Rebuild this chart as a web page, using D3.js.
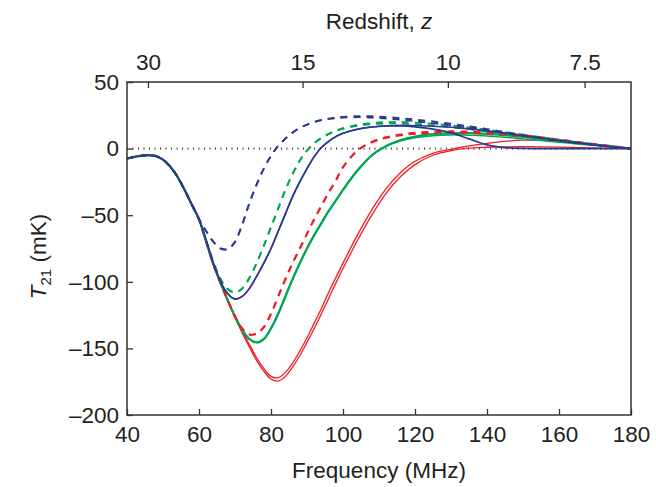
<!DOCTYPE html>
<html>
<head>
<meta charset="utf-8">
<script src="https://cdn.jsdelivr.net/npm/d3@7"></script>
<style>
  body { margin: 0; background: #fff; }
  svg text { font-family: "Liberation Sans", Arial, Helvetica, sans-serif; fill: #231f20; }
</style>
</head>
<body>
<div class="chart"></div>
<script>
// 21-cm brightness temperature vs frequency, with redshift on the top axis.
// Every model shares the early dip (40-60 MHz), then splits into its own trough.

var xTicks = [40, 60, 80, 100, 120, 140, 160, 180]
var yTicks = [50, 0, -50, -100, -150, -200]
var zTicks = [30, 15, 10, 7.5]
var zLabels = ['30', '15', '10', '7.5']
var nu21 = 1420.4

// shared early part (MHz / mK)
var commonFreq = [40, 43, 46, 48, 50, 52, 54, 56, 58, 60]
var commonT = [-7.5, -5.8, -5, -5.6, -8.3, -13.5, -21, -31, -42, -53]

var freqs = [62, 64, 66, 68, 70, 72, 74, 76, 78, 80, 82, 84, 86, 88, 90, 92, 94, 96, 98, 100,
  104, 108, 112, 116, 120, 125, 130, 135, 140, 145, 150, 155, 160, 165, 170, 175, 180]

var blueDashA = [-62, -70, -75, -75.5, -70, -57, -41, -27, -15, -5.5, 2, 7.5, 12, 15.5, 18, 20, 21.5, 22.5, 23.3, 23.8,
  24.3, 24.2, 23.6, 22.8, 21.8, 20.3, 18.6, 16.7, 14.6, 12.4, 10.2, 8.1, 6.2, 4.4, 2.8, 1.3, 0]
var blueDashB = [-62, -70, -75, -75.5, -70, -57, -41, -27, -15, -5.5, 2, 7.5, 12, 15.5, 18, 20, 21.3, 22.2, 22.8, 23.2,
  23.5, 23.2, 22.5, 21.6, 20.5, 19, 17.3, 15.5, 13.5, 11.5, 9.5, 7.6, 5.8, 4.1, 2.6, 1.2, 0]
var blueSolidA = [-69, -86, -100, -109, -113, -111, -105, -96, -86, -75, -62, -49, -36, -25, -15, -6, 0.8, 5.5, 9, 11.5,
  14.5, 16.2, 17, 17, 16.3, 14.6, 11.8, 7.3, 2.8, 0.7, 0.1, 0, 0, 0, 0, 0, 0]
var blueSolidB = [-69, -86, -100, -109, -113, -111, -105, -96, -86, -75, -62, -49, -36, -25, -15, -6, 0.8, 5.5, 9, 11.5,
  14.5, 16.2, 17.1, 17.4, 17.2, 16.8, 16, 14.8, 13.3, 11.6, 9.8, 7.9, 6, 4.3, 2.7, 1.3, 0]
var greenDashA = [-69, -85, -98, -105.5, -108, -105, -97, -86, -73, -59, -45, -31, -19, -9, -1.5, 4, 8, 11, 13.5, 15.3,
  17.8, 19.2, 19.8, 19.9, 19.5, 18.6, 17.3, 15.8, 14.1, 12.3, 10.4, 8.5, 6.6, 4.8, 3.1, 1.5, 0]
var greenDashB = [-69, -85, -98, -105.5, -108, -105, -97, -86, -73, -59, -45, -31, -19, -9, -1.5, 4, 7.8, 10.7, 13, 14.7,
  17, 18.3, 18.8, 18.8, 18.3, 17.3, 16, 14.5, 12.8, 11.1, 9.3, 7.6, 5.9, 4.3, 2.8, 1.4, 0]
var redDashA = [-70, -87, -101, -114, -126, -135, -139.5, -139, -134, -124, -111, -98, -86, -75, -64, -53, -43, -33, -24, -14,
  -1.5, 5, 8.5, 10.5, 11.8, 12.6, 12.9, 12.7, 12.1, 11.1, 9.9, 8.4, 6.8, 5.1, 3.4, 1.7, 0]
var redDashB = [-70, -87, -101, -114, -126, -135, -139.5, -139, -134, -124, -111, -98, -86, -75, -64, -53, -43, -33, -24, -14,
  -1.5, 4.6, 7.9, 9.8, 11, 11.7, 11.9, 11.7, 11.1, 10.2, 9, 7.7, 6.2, 4.7, 3.1, 1.5, 0]
var greenSolidA = [-70, -87, -101, -114, -126, -136, -143, -145.5, -143, -135, -124, -111, -98, -86, -75, -65, -56, -47, -39, -31,
  -16.5, -5, 2, 6.4, 9, 10.8, 11.6, 11.6, 11.1, 10.1, 8.9, 7.5, 6, 4.5, 3, 1.5, 0]
var greenSolidB = [-70, -87, -101, -114, -126, -136, -143, -145.5, -143, -135, -124, -111, -98, -86, -75, -65, -56, -47, -39, -31,
  -16.5, -5, 1.8, 5.9, 8.2, 9.7, 10.3, 10.1, 9.5, 8.5, 7.3, 6, 4.8, 3.5, 2.3, 1.1, 0]
var redSolidA = [-70, -87, -101, -114, -126, -137, -147, -157, -165, -171, -172, -168, -161, -152, -142, -131, -120, -108, -97, -86,
  -65, -46, -30, -18, -9.5, -3.5, -0.5, 2, 4, 5.5, 6.3, 6.3, 5.5, 4.2, 2.8, 1.3, 0]
var redSolidB = [-70, -87, -101, -114.5, -127, -138.5, -149, -159, -167, -173, -174.5, -171, -164, -155.5, -145.5, -135, -124, -112.5, -101, -90,
  -69, -50, -33.5, -21, -12, -5, -1.5, 0.3, 1, 1.3, 1.4, 1.3, 1.1, 0.8, 0.5, 0.2, 0]

var blue = '#2b3990', green = '#00a651', red = '#ed1c24'

// draw order: bottom first
var series = [
  {vals: redSolidA, color: red, width: 1.3},
  {vals: redSolidB, color: red, width: 1.3},
  {vals: greenSolidB, color: green, width: 1.5},
  {vals: greenSolidA, color: green, width: 2.3},
  {vals: redDashB, color: red, width: 1.6, dash: '7,6'},
  {vals: redDashA, color: red, width: 2.1, dash: '7,6'},
  {vals: greenDashB, color: green, width: 1.6, dash: '7,6'},
  {vals: greenDashA, color: green, width: 2, dash: '7,6'},
  {vals: blueSolidB, color: blue, width: 1.6},
  {vals: blueSolidA, color: blue, width: 1.6},
  {vals: blueDashB, color: blue, width: 1.6, dash: '7,6'},
  {vals: blueDashA, color: blue, width: 2, dash: '7,6'}
]

var totalWidth = 656, totalHeight = 487
var margin = {top: 82, right: 25, bottom: 72, left: 127}
var width = totalWidth - margin.left - margin.right
var height = totalHeight - margin.top - margin.bottom

var svg = d3.select('.chart').append('svg')
  .attr('width', totalWidth).attr('height', totalHeight)
var g = svg.append('g').attr('transform', 'translate(' + margin.left + ',' + margin.top + ')')

var x = d3.scaleLinear().domain([40, 180]).range([0, width])
var y = d3.scaleLinear().domain([-200, 50]).range([height, 0])

// zero reference
g.append('line')
  .attr('x1', 0).attr('x2', width).attr('y1', y(0)).attr('y2', y(0))
  .attr('stroke', '#444').attr('stroke-width', 2.2).attr('stroke-dasharray', '1,4.5')

var line = d3.line()
  .x(function(d){ return x(d[0]) })
  .y(function(d){ return y(d[1]) })
  .curve(d3.curveCatmullRom.alpha(0.5))

series.forEach(function(s){
  var pts = commonFreq.map(function(f, i){ return [f, commonT[i]] })
    .concat(freqs.map(function(f, i){ return [f, s.vals[i]] }))
  g.append('path')
    .attr('d', line(pts))
    .attr('fill', 'none')
    .attr('stroke', s.color)
    .attr('stroke-width', s.width)
    .attr('stroke-dasharray', s.dash || null)
    .attr('stroke-linejoin', 'round')
})

// ---- axes (ticks point inward) ----
var fontSize = 22.5
var xAxis = d3.axisBottom(x).tickValues(xTicks).tickSizeInner(-6).tickSizeOuter(0).tickPadding(11)
var yAxis = d3.axisLeft(y).tickValues(yTicks).tickSizeInner(-6).tickSizeOuter(0).tickPadding(8)
  .tickFormat(function(d){ return d < 0 ? '\u2013' + Math.abs(d) : d })
var zAxis = d3.axisTop(x)
  .tickValues(zTicks.map(function(z){ return nu21 / (1 + z) }))
  .tickFormat(function(d, i){ return zLabels[i] })
  .tickSizeInner(-6).tickSizeOuter(0).tickPadding(12)

var gx = g.append('g').attr('transform', 'translate(0,' + height + ')').call(xAxis)
var gy = g.append('g').call(yAxis)
var gz = g.append('g').call(zAxis)

;[gx, gy, gz].forEach(function(a){
  a.select('.domain').remove()
  a.selectAll('.tick line').attr('stroke', '#333').attr('stroke-width', 1.3)
  a.selectAll('.tick text').attr('font-size', fontSize).attr('font-family', null).attr('fill', '#231f20')
})

// frame
g.append('rect')
  .attr('width', width).attr('height', height)
  .attr('fill', 'none').attr('stroke', '#333').attr('stroke-width', 1.5)

// ---- titles ----
var zTitle = svg.append('text')
  .attr('x', margin.left + width / 2).attr('y', 29)
  .attr('text-anchor', 'middle').attr('font-size', fontSize)
zTitle.append('tspan').text('Redshift, ')
zTitle.append('tspan').attr('font-style', 'italic').text('z')

svg.append('text').text('Frequency (MHz)')
  .attr('x', margin.left + width / 2).attr('y', 478)
  .attr('text-anchor', 'middle').attr('font-size', fontSize)

var yTitle = svg.append('text')
  .attr('transform', 'translate(46,' + (margin.top + height / 2 + 8) + ') rotate(-90)')
  .attr('text-anchor', 'middle').attr('font-size', fontSize)
yTitle.append('tspan').attr('font-style', 'italic').text('T')
yTitle.append('tspan').attr('font-size', 15).attr('dy', 5).text('21')
yTitle.append('tspan').attr('dy', -5).text(' (mK)')
</script>
</body>
</html>
